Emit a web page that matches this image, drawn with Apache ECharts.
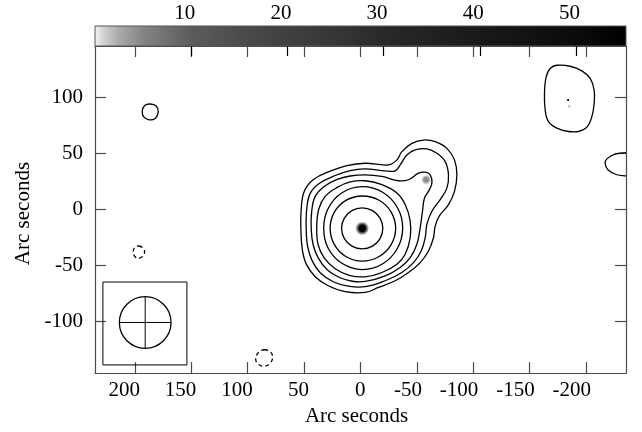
<!DOCTYPE html>
<html>
<head>
<meta charset="utf-8">
<script src="https://cdn.jsdelivr.net/npm/echarts@6/dist/echarts.min.js"></script>
<style>html,body{margin:0;padding:0;background:#fff}#c{width:642px;height:432px}</style>
</head>
<body>
<div id="c"></div>
<script>
// ---------- data (arc seconds) ----------
const xTickValues = [200, 150, 100, 50, 0, -50, -100, -150, -200];
const yTickValues = [100, 50, 0, -50, -100];
const cbTickValues = [10, 20, 30, 40, 50];
const xRange = [-235.4, 235.4];
const yRange = [-146, 146];
const cbRange = [0, 55.2];

// colour bar transfer (value -> grey)
const cbValues = [0, 1, 2.5, 5, 10, 15, 20, 25, 30, 40, 50, 55.2];
const cbGrays  = ['#f4f4f4', '#cfcfcf', '#ababab', '#858585', '#5c5c5c', '#4c4c4c', '#404040', '#363636', '#292929', '#191919', '#0b0b0b', '#000000'];

// positive contours (solid, closed)
const contour1 = [[16.8,-16.8],[14.35,-7.65],[7.65,-0.95],[-1.5,1.5],[-10.65,-0.95],[-17.35,-7.65],[-19.8,-16.8],[-17.35,-25.95],[-10.65,-32.65],[-1.5,-35.1],[7.65,-32.65],[14.35,-25.95]];
const contour2 = [[26.9,-16.8],[23.27,-2.5],[12.9,8.14],[-1.5,12.1],[-16.1,8.49],[-27.05,-2.05],[-31.2,-16.8],[-27.05,-31.55],[-16.15,-42.17],[-1.5,-46.1],[13,-41.91],[23.27,-31.1]];
const contour3 = [[32.6,-16.8],[28.8,0.7],[16.75,14.8],[-1.5,20.4],[-20,15.24],[-32.94,1.35],[-37.4,-16.8],[-32.68,-34.8],[-19.75,-48.41],[-1.5,-53.6],[16.5,-47.98],[28.81,-34.3]];
const contour4 = [[-4.17,25.71],[-18.97,22.16],[-32.27,14.72],[-39.63,4.43],[-44.06,-10.37],[-44.06,-25.18],[-39.63,-39.89],[-32.27,-48.76],[-18.97,-56.2],[-4.17,-60.02],[10.02,-58.69],[22.43,-52.92],[32.18,-43.17],[37.5,-31.65],[38.83,-16.58],[37.06,0.27],[31.29,11.79],[20.65,19.77],[9.13,24.64]];
const contour5 = [[-4.17,31.03],[-18.97,29.52],[-33.69,25.71],[-42.55,26.6],[-51.42,32.45],[-57.36,33.33],[-61.79,31.03],[-63.3,23.58],[-60.28,16.22],[-56.74,10.28],[-54.96,-1.51],[-52.92,-16.31],[-50,-31.03],[-44.06,-42.91],[-35.19,-51.77],[-21.9,-59.13],[-4.17,-64.18],[7.36,-64.01],[18,-60.9],[29.52,-53.81],[37.5,-43.17],[41.93,-31.65],[43.7,-17.46],[43.26,-1.51],[40.16,11.79],[32.18,20.66],[20.65,26.86],[9.13,29.96]];
const contour6 = [[-4.17,36.35],[-21.9,34.57],[-30.76,34.57],[-35.19,39.89],[-41.13,48.76],[-48.49,53.19],[-58.86,54.08],[-67.73,50.18],[-75.09,42.82],[-78.01,31.03],[-76.59,19.15],[-70.65,8.87],[-63.3,-1.51],[-58.86,-13.3],[-57.36,-25.18],[-53.81,-36.97],[-46.98,-47.34],[-36.7,-56.2],[-21.9,-63.56],[-4.17,-68.88],[10.9,-68.44],[24.2,-64.45],[35.73,-56.47],[42.82,-45.83],[46.81,-33.42],[48.14,-17.46],[47.69,0.27],[44.59,14.45],[36.61,23.31],[22.43,30.41],[9.13,34.84]];
const contour7 = [[-4.17,41.31],[-24.82,39.89],[-32.27,44.33],[-36.7,51.68],[-45.57,59.04],[-55.85,62.06],[-66.22,60.55],[-76.59,54.61],[-83.33,44.33],[-85.46,31.03],[-83.33,16.22],[-78.01,4.43],[-69.77,-5.94],[-66.22,-14.8],[-64.71,-25.18],[-60.28,-36.97],[-52.92,-47.34],[-42.55,-56.2],[-30.76,-63.56],[-15.96,-69.5],[-4.17,-73.93],[13.56,-73.31],[28.63,-68],[40.16,-60.02],[48.14,-48.49],[51.68,-35.19],[52.84,-17.46],[52.57,0.27],[49.91,16.22],[41.67,26.86],[26.86,34.22],[12.06,39.27]];
const contourNW = [[186.43,94.23],[181.11,92.46],[179.34,87.14],[182,81.38],[187.32,80.05],[192.19,82.71],[193.52,88.03],[191.31,92.91]];
const contourNE = [[-174.11,128.81],[-185.9,127.92],[-196.27,123.76],[-203.63,117.02],[-207.18,106.65],[-207.18,94.86],[-205.14,82.98],[-200.7,73.58],[-193.26,69.68],[-184.39,69.68],[-174.11,72.69],[-166.66,78.54],[-163.74,88.92],[-163.12,103.72],[-164.62,118.44],[-168.17,125.88]];
// open contour leaving the field on the right
const contourEdge = [[-240.86,51.24],[-235.54,50.8],[-225.79,49.47],[-218.7,45.48],[-216.93,41.04],[-219.59,35.28],[-226.68,31.29],[-235.54,29.96],[-240.86,29.52]];
// negative contours (dashed, closed)
const negContourW = [[196.63,-32.53],[192.19,-35.19],[191.75,-39.63],[195.3,-43.17],[199.73,-42.29],[201.5,-37.85],[200.17,-33.86]];
const negContourS = [[85.37,-125.17],[80.05,-126.95],[77.84,-131.82],[80.49,-137.58],[85.37,-139.8],[90.69,-138.03],[92.91,-133.59],[90.69,-127.83]];

// compact sources in the grey-scale image: x, y, peak value
const sourceX = [-1.5, -58.2, -184.1, -185.0];
const sourceY = [-16.8, 26.6, 97.8, 92.3];
const sourcePeak = [55, 4.5, 45, 1.2];

// restoring beam and its box
const beamCenter = [190.9, -100.8];
const beamRadius = 22.9;
const beamBox = [228.4, 153.9, -64.7, -138.7]; // x left, x right, y top, y bottom

// ---------- helpers ----------
function hexToRgb(h){ return [parseInt(h.substr(1,2),16), parseInt(h.substr(3,2),16), parseInt(h.substr(5,2),16)]; }
function grayAt(v){
  for (let i = 0; i < cbValues.length - 1; i++) {
    if (v <= cbValues[i+1]) {
      const t = (v - cbValues[i]) / (cbValues[i+1] - cbValues[i]);
      const a = hexToRgb(cbGrays[i]), b = hexToRgb(cbGrays[i+1]);
      return a.map((c, k) => Math.round(c + (b[k]-c)*t));
    }
  }
  return [0,0,0];
}

const FONT = 'Liberation Serif';
const AX = '#4a4a4a';
const chart = echarts.init(document.getElementById('c'), null, {renderer: 'canvas'});

function contourSeries(data, closed, dashed) {
  return {
    type: 'custom', xAxisIndex: 0, yAxisIndex: 0, data: data, silent: true, clip: true, z: 5,
    encode: {x: 0, y: 1},
    renderItem: function (params, api) {
      if (params.dataIndex !== 0) return null;
      const pts = data.map(p => api.coord(p));
      return {type: closed ? 'polygon' : 'polyline',
        shape: {points: pts, smooth: 0.4},
        style: {fill: 'none', stroke: '#000', lineWidth: 1.3, lineDash: dashed ? [4, 3] : null}};
    }
  };
}

const sourceSizes = [14, 10, 3, 4];
const sourceData = sourceX.map((x, i) => [x, sourceY[i], sourcePeak[i], sourceSizes[i]]);

const cbStops = cbValues.map((v, i) => ({offset: (v - cbRange[0]) / (cbRange[1] - cbRange[0]), color: cbGrays[i]}));

const option = {
  animation: false,
  backgroundColor: '#fff',
  textStyle: {fontFamily: FONT},
  grid: [
    {left: 95, right: 16, top: 46, bottom: 57},
    {left: 95, right: 16, top: 26, height: 20}
  ],
  xAxis: [
    {gridIndex: 0, type: 'value', min: xRange[0], max: xRange[1], inverse: true, position: 'bottom',
     axisLine: {onZero: false, lineStyle: {color: AX, width: 1.2}},
     axisTick: {inside: true, length: 11, customValues: xTickValues, lineStyle: {color: AX, width: 1.2}},
     axisLabel: {customValues: xTickValues, fontFamily: FONT, fontSize: 21, color: '#000', align: 'right', padding: [0, -5, 0, 0], margin: 7},
     splitLine: {show: false},
     name: 'Arc seconds', nameLocation: 'middle', nameGap: 30,
     nameTextStyle: {fontFamily: FONT, fontSize: 21, color: '#000', padding: [0, 8, 0, 0]}},
    {gridIndex: 0, type: 'value', min: xRange[0], max: xRange[1], inverse: true, position: 'top',
     axisLine: {onZero: false, lineStyle: {color: AX, width: 1.2}},
     axisTick: {inside: true, length: 11, customValues: xTickValues, lineStyle: {color: AX, width: 1.2}},
     axisLabel: {show: false}, splitLine: {show: false}},
    {gridIndex: 1, type: 'value', min: cbRange[0], max: cbRange[1], position: 'top',
     axisLine: {show: false},
     axisTick: {inside: true, length: 10, customValues: cbTickValues, lineStyle: {color: '#000', width: 1.2}},
     axisLabel: {customValues: cbTickValues, fontFamily: FONT, fontSize: 21, color: '#000', align: 'right', padding: [0, -4, 0, 0], margin: 2},
     splitLine: {show: false}, z: 10}
  ],
  yAxis: [
    {gridIndex: 0, type: 'value', min: yRange[0], max: yRange[1], position: 'left',
     axisLine: {onZero: false, lineStyle: {color: AX, width: 1.2}},
     axisTick: {inside: true, length: 11, customValues: yTickValues, lineStyle: {color: AX, width: 1.2}},
     axisLabel: {customValues: yTickValues, fontFamily: FONT, fontSize: 21, color: '#000', margin: 12, padding: [5, 0, 0, 0]},
     splitLine: {show: false},
     name: 'Arc seconds', nameLocation: 'middle', nameGap: 58, nameRotate: 90,
     nameTextStyle: {fontFamily: FONT, fontSize: 21, color: '#000', padding: [0, 8, 0, 0]}},
    {gridIndex: 0, type: 'value', min: yRange[0], max: yRange[1], position: 'right',
     axisLine: {onZero: false, lineStyle: {color: AX, width: 1.2}},
     axisTick: {inside: true, length: 11, customValues: yTickValues, lineStyle: {color: AX, width: 1.2}},
     axisLabel: {show: false}, splitLine: {show: false}},
    {gridIndex: 1, type: 'value', min: 0, max: 1, show: false}
  ],
  series: [
    // colour bar
    {type: 'custom', xAxisIndex: 2, yAxisIndex: 2, silent: true, z: 1,
     data: [[cbRange[0], cbRange[1]]],
     renderItem: function (params, api) {
       const p0 = api.coord([api.value(0), 1]);
       const p1 = api.coord([api.value(1), 0]);
       return {type: 'rect', shape: {x: p0[0], y: p0[1], width: p1[0] - p0[0], height: p1[1] - p0[1]},
         style: {fill: new echarts.graphic.LinearGradient(0, 0, 1, 0, cbStops), stroke: '#555', lineWidth: 1}};
     }},
    // grey-scale sources
    {type: 'custom', xAxisIndex: 0, yAxisIndex: 0, silent: true, z: 2,
     data: sourceData,
     renderItem: function (params, api) {
       const p = api.coord([api.value(0), api.value(1)]);
       const g = grayAt(api.value(2));
       const r = api.value(3) / 2;
       const col = 'rgb(' + g.join(',') + ')';
       return {type: 'circle', shape: {cx: p[0], cy: p[1], r: r},
         style: {fill: new echarts.graphic.RadialGradient(0.5, 0.5, 0.5, [
           {offset: 0, color: col}, {offset: 0.45, color: col},
           {offset: 1, color: 'rgba(' + g.join(',') + ',0)'}])}};
     }},
    // beam
    {type: 'custom', xAxisIndex: 0, yAxisIndex: 0, silent: true, z: 6,
     data: [beamCenter],
     renderItem: function (params, api) {
       const tl = api.coord([beamBox[0], beamBox[2]]);
       const br = api.coord([beamBox[1], beamBox[3]]);
       const c = api.coord([api.value(0), api.value(1)]);
       const r = Math.abs(api.size([beamRadius, 0])[0]);
       return {type: 'group', children: [
         {type: 'rect', shape: {x: tl[0], y: tl[1], width: br[0] - tl[0], height: br[1] - tl[1]}, style: {fill: 'none', stroke: '#000', lineWidth: 1}},
         {type: 'circle', shape: {cx: c[0], cy: c[1], r: r}, style: {fill: 'none', stroke: '#000', lineWidth: 1.3}},
         {type: 'line', shape: {x1: c[0] - r, y1: c[1], x2: c[0] + r, y2: c[1]}, style: {stroke: '#000', lineWidth: 1}},
         {type: 'line', shape: {x1: c[0], y1: c[1] - r, x2: c[0], y2: c[1] + r}, style: {stroke: '#000', lineWidth: 1}}
       ]};
     }},
    contourSeries(contour1, true), contourSeries(contour2, true), contourSeries(contour3, true), contourSeries(contour4, true),
    contourSeries(contour5, true), contourSeries(contour6, true), contourSeries(contour7, true),
    contourSeries(contourNW, true), contourSeries(contourNE, true), contourSeries(contourEdge, false),
    contourSeries(negContourW, true, true), contourSeries(negContourS, true, true)
  ]
};
chart.setOption(option);
</script>
</body>
</html>
